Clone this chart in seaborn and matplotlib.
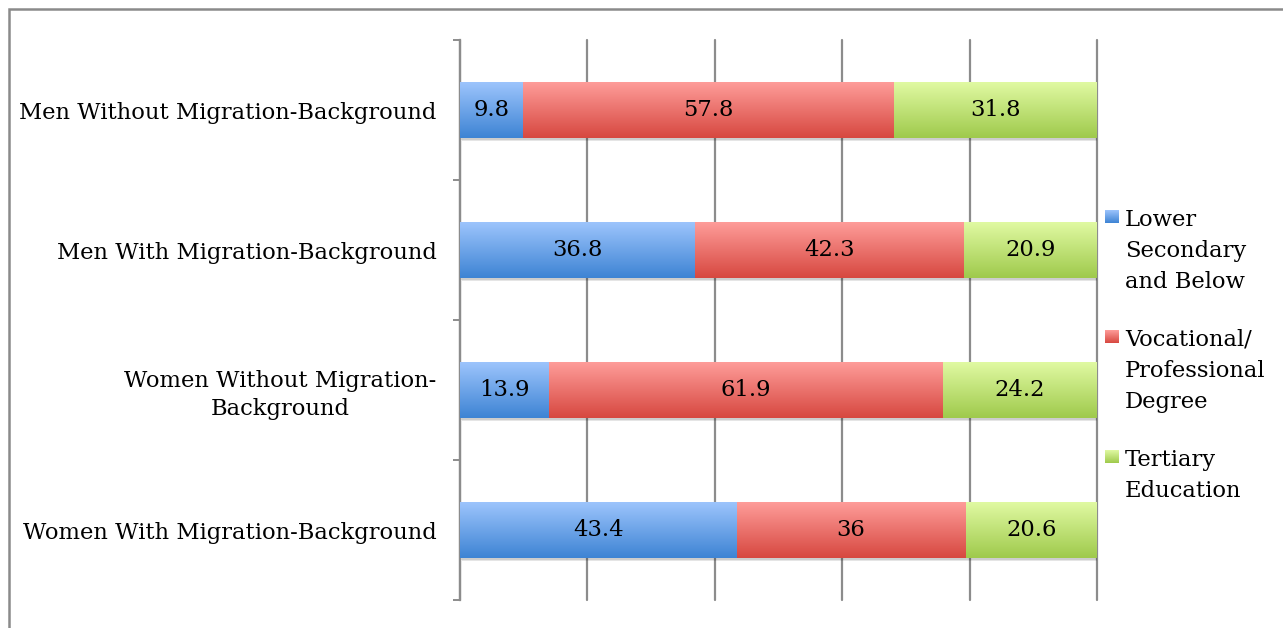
import numpy as np
import pandas as pd
import matplotlib
matplotlib.use("Agg")
import matplotlib.pyplot as plt
import matplotlib.patheffects as pe
from matplotlib.patches import Rectangle
from matplotlib.colors import to_rgba
import seaborn as sns

# ---- data -------------------------------------------------------------
groups = [
    "Men Without Migration-Background",
    "Men With Migration-Background",
    "Women Without Migration-\nBackground",
    "Women With Migration-Background",
]
lower_secondary = [9.8, 36.8, 13.9, 43.4]
vocational = [57.8, 42.3, 61.9, 36.0]
tertiary = [31.8, 20.9, 24.2, 20.6]
series_labels = [
    "Lower\nSecondary\nand Below",
    "Vocational/\nProfessional\nDegree",
    "Tertiary\nEducation",
]

# gradient (top, bottom) colours for each series
gradients = [
    ("#9cc4fc", "#3e84d4"),
    ("#fe9c99", "#d74840"),
    ("#e0f9a2", "#9fca4c"),
]

W, H = 1283, 628
GRID = "#8c8c8c"

sns.set_theme(style="white")
plt.rcParams["font.family"] = ["DejaVu Serif"]
plt.rcParams["text.color"] = "black"
plt.rcParams["ytick.labelcolor"] = "black"
FS = 16.3

df = pd.DataFrame({
    "group": groups,
    "lower": lower_secondary,
    "vocational": vocational,
    "tertiary": tertiary,
})
# 100% stacked: each row is scaled to its own total
total = df[["lower", "vocational", "tertiary"]].sum(axis=1)
for c in ("lower", "vocational", "tertiary"):
    df[c + "_pct"] = df[c] / total * 100
df["end_lower"] = df["lower_pct"]
df["end_voc"] = df["end_lower"] + df["vocational_pct"]
df["end_all"] = df["end_voc"] + df["tertiary_pct"]


def grad_image(top, bottom, n=64):
    t = np.linspace(0, 1, n)[:, None, None]
    a = np.array(to_rgba(top))[None, None, :]
    b = np.array(to_rgba(bottom))[None, None, :]
    return a * (1 - t) + b * t


fig = plt.figure(figsize=(W / 100, H / 100), dpi=100)
ax = fig.add_axes([460 / W, 1 - 600 / H, 637 / W, 560 / H])

# stacked bars drawn as cumulative layers, widest first
layers = [("end_all", 2), ("end_voc", 1), ("end_lower", 0)]
for li, (col, si) in enumerate(layers):
    n_before = len(ax.patches)
    sns.barplot(data=df, x=col, y="group", orient="h", width=0.4,
                color=gradients[si][1], saturation=1, ax=ax)
    new = ax.patches[n_before:]
    for p in new:
        x0, y0 = p.get_x(), p.get_y()
        w, h = p.get_width(), p.get_height()
        p.set_zorder(2 + li)
        p.set_linewidth(0)
        if li == 0:
            p.set_path_effects([
                pe.SimplePatchShadow(offset=(1.5, -2.5), shadow_rgbFace="#000000",
                                     alpha=0.10),
                pe.SimplePatchShadow(offset=(1.0, -1.5), shadow_rgbFace="#000000",
                                     alpha=0.10),
                pe.Normal(),
            ])
        ax.imshow(grad_image(*gradients[si]), extent=[x0, x0 + w, y0 + h, y0],
                  origin="upper", aspect="auto", zorder=2.5 + li,
                  interpolation="bilinear")

# value labels centred in each segment
starts = [np.zeros(len(groups)), df["end_lower"].values, df["end_voc"].values]
shares = [df["lower_pct"].values, df["vocational_pct"].values, df["tertiary_pct"].values]
values = [lower_secondary, vocational, tertiary]
for s, sh, vals in zip(starts, shares, values):
    for i, (x0, w, v) in enumerate(zip(s, sh, vals)):
        ax.text(x0 + w / 2, i, f"{v:g}", ha="center", va="center",
                fontsize=FS, color="black", zorder=10)

ax.set_xlim(0, 100)
ax.set_ylim(len(groups) - 0.5, -0.5)
ax.set_xlabel("")
ax.set_ylabel("")

# axes styling
ax.set_xticks(np.arange(0, 101, 20))
ax.tick_params(axis="x", length=0, labelbottom=False)
ax.grid(axis="x", color=GRID, linewidth=1.6)
ax.grid(axis="y", visible=False)
ax.set_axisbelow(True)
for ln in ax.get_xgridlines():
    ln.set_clip_on(False)
for side in ("top", "right", "bottom"):
    ax.spines[side].set_visible(False)
ax.spines["left"].set_color(GRID)
ax.spines["left"].set_linewidth(1.6)

ax.set_yticks(np.arange(len(groups)))
ax.set_yticklabels(groups, fontsize=FS)
for lbl in ax.get_yticklabels():
    lbl.set_multialignment("center")
    lbl.set_linespacing(1.3)
ax.set_yticks(np.arange(-0.5, len(groups), 1), minor=True)
ax.tick_params(axis="y", which="major", left=True, length=0, pad=17)
ax.tick_params(axis="y", which="minor", left=True, length=5, width=1.4,
               color=GRID, direction="out")

# legend on the right, markers aligned with the first text line
lax = fig.add_axes([1100 / W, 0, 183 / W, 1])
lax.axis("off")
legend_baselines = [226, 346, 466]
LINE = 31
for (top, bottom), label, base in zip(gradients, series_labels, legend_baselines):
    lax.imshow(grad_image(top, bottom), extent=[1105, 1119, base - 3, base - 16],
               origin="upper", aspect="auto", interpolation="bilinear")
    for k, line in enumerate(label.split("\n")):
        lax.text(1125, base + k * LINE, line, ha="left", va="baseline",
                 fontsize=FS, color="black")
lax.set_xlim(1100, 1283)
lax.set_ylim(H, 0)

# chart frame
fig.add_artist(Rectangle((9 / W, -0.1), 1.2, 1.1 - 9 / H, transform=fig.transFigure,
                         fill=False, edgecolor="#8a8a8a", linewidth=1.8))

fig.savefig("out.png", dpi=100)
